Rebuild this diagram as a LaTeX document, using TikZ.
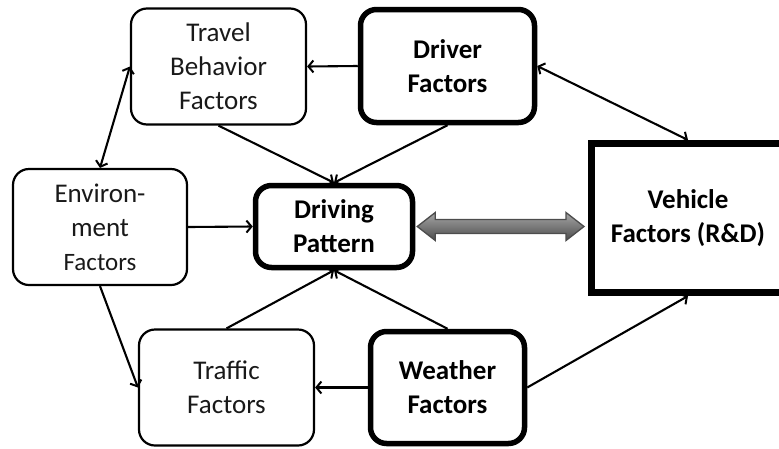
\documentclass[tikz,border=0pt]{standalone}
\usepackage{fontspec}
\setmainfont{Carlito}
\usetikzlibrary{arrows.meta,calc}
\tikzset{
  thinbox/.style={draw=black, line width=2.2pt, rounded corners=16pt, align=center, inner sep=0pt,
    font=\fontsize{27}{34}\selectfont, text=black!90},
  thickbox/.style={draw=black, line width=5.5pt, rounded corners=16pt, align=center, inner sep=0pt,
    font=\fontsize{27}{34}\selectfont\bfseries, text=black},
  conn/.style={draw=black, line width=2.1pt, -{Straight Barb[length=5pt,width=12pt,line width=2pt]}},
  bconn/.style={draw=black, line width=2.1pt, {Straight Barb[length=5pt,width=12pt,line width=2pt]}-{Straight Barb[length=5pt,width=12pt,line width=2pt]}},
  fatarrow/.style={draw=black!70, line width=1.3pt, top color=gray!70, bottom color=black!70}
}
\begin{document}
\begin{tikzpicture}[x=1pt,y=-1pt]
\useasboundingbox (0,0) rectangle (779,448);
\clip (0,0) rectangle (779,448);
\node[thinbox, minimum width=175pt, minimum height=116pt] (trav) at (218.5,66.5) {Travel\\Behavior\\Factors};
\node[thickbox, minimum width=174pt, minimum height=113pt] (drv) at (447.5,66) {Driver\\Factors};
\node[thinbox, minimum width=174pt, minimum height=116pt] (env) at (100,227) {Environ-\\ment\\{\fontsize{25}{32}\selectfont Factors}};
\node[thickbox, minimum width=157pt, minimum height=82pt] (dp) at (334,226.5) {Driving\\Pattern};
\node[thickbox, rounded corners=0pt, line width=7pt, minimum width=193pt, minimum height=149pt] (veh) at (688,218) {Vehicle\\Factors (R\&D)};
\node[thinbox, minimum width=175pt, minimum height=116pt] (traf) at (226.5,387.5) {Traffic\\Factors};
\node[thickbox, minimum width=154pt, minimum height=112pt] (wea) at (447.5,387.5) {Weather\\Factors};

\draw[conn] (drv.west) -- (trav.east);
\draw[bconn] (trav.west) -- (env.north);
\draw[conn] (trav.south) -- (dp.north);
\draw[conn] (drv.south) -- (dp.north);
\draw[bconn] (drv.east) -- (veh.north);
\draw[conn] (env.east) -- (dp.west);
\draw[conn] (env.south) -- (traf.west);
\draw[conn] (traf.north) -- (dp.south);
\draw[conn] (wea.north) -- (dp.south);
\draw[conn] (wea.west) -- (traf.east);
\draw[conn] (wea.east) -- (veh.south);

\coordinate (fa) at ($(dp.east)+(2,0)$);
\coordinate (fb) at ($(veh.west |- dp.east)+(-4,0)$);
\path[fatarrow] (fa) -- ($(fa)+(18,-14)$) -- ($(fa)+(18,-7)$) -- ($(fb)+(-18,-7)$) -- ($(fb)+(-18,-14)$)
  -- (fb) -- ($(fb)+(-18,14)$) -- ($(fb)+(-18,7)$) -- ($(fa)+(18,7)$) -- ($(fa)+(18,14)$) -- cycle;
\end{tikzpicture}
\end{document}
